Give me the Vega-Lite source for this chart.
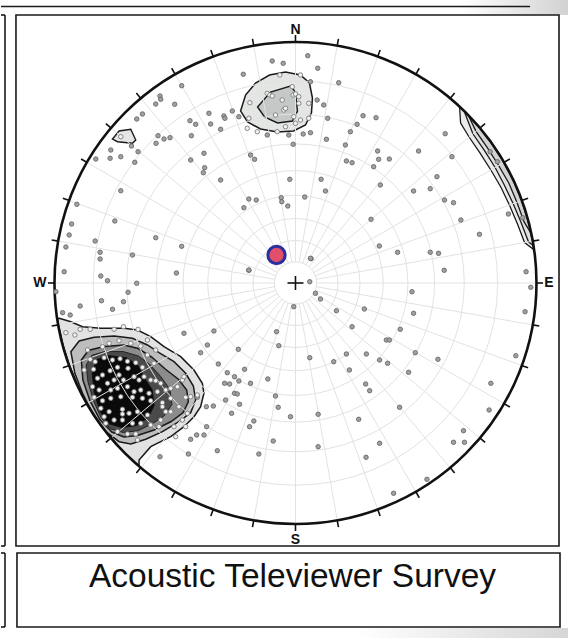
{
  "$schema": "https://vega.github.io/schema/vega-lite/v6.json",
  "width": 568,
  "height": 638,
  "autosize": {"type": "fit", "contains": "padding"},
  "padding": 0,
  "background": "white",
  "config": {"view": {"stroke": null}},
  "datasets": {
    "shadeTop": [{"x": 165, "x2": 273, "y": 283, "y2": 268}],
    "shadeBottom": [{"x": 60, "x2": 273, "y": -345, "y2": -355}],
    "frames": [
      {"x": -280, "x2": 264, "y": 268, "y2": -263},
      {"x": -279, "x2": 265, "y": -270, "y2": -344}
    ],
    "edges": [
      {"x": -295, "x2": 235, "y": 276.5, "y2": 276.5},
      {"x": -291, "x2": -291, "y": 268, "y2": -263},
      {"x": -295, "x2": -291, "y": 268, "y2": 268},
      {"x": -295, "x2": -291, "y": -263, "y2": -263},
      {"x": -291, "x2": -291, "y": -270, "y2": -344},
      {"x": -295, "x2": -291, "y": -270, "y2": -270},
      {"x": -295, "x2": -291, "y": -344, "y2": -344}
    ],
    "contours": [
      {"poly": "sw1", "i": 1, "x": -236.7, "y": -35.3},
      {"poly": "sw1", "i": 2, "x": -225, "y": -38.7},
      {"poly": "sw1", "i": 3, "x": -213.3, "y": -43.7},
      {"poly": "sw1", "i": 4, "x": -195, "y": -45.3},
      {"poly": "sw1", "i": 5, "x": -171.7, "y": -45.3},
      {"poly": "sw1", "i": 6, "x": -158.3, "y": -47},
      {"poly": "sw1", "i": 7, "x": -145, "y": -53.7},
      {"poly": "sw1", "i": 8, "x": -131.7, "y": -63.7},
      {"poly": "sw1", "i": 9, "x": -115, "y": -73.7},
      {"poly": "sw1", "i": 10, "x": -101.7, "y": -87},
      {"poly": "sw1", "i": 11, "x": -93.3, "y": -100.3},
      {"poly": "sw1", "i": 12, "x": -91.7, "y": -110.3},
      {"poly": "sw1", "i": 13, "x": -95, "y": -123.7},
      {"poly": "sw1", "i": 14, "x": -101.7, "y": -133.7},
      {"poly": "sw1", "i": 15, "x": -111.7, "y": -143.7},
      {"poly": "sw1", "i": 16, "x": -125, "y": -153.7},
      {"poly": "sw1", "i": 17, "x": -145, "y": -163.7},
      {"poly": "sw1", "i": 18, "x": -156.7, "y": -177},
      {"poly": "sw1", "i": 19, "x": -156.7, "y": -182.7},
      {"poly": "sw1", "i": 20, "x": -170.4, "y": -170.4},
      {"poly": "sw1", "i": 21, "x": -184.6, "y": -155.0},
      {"poly": "sw1", "i": 22, "x": -197.4, "y": -138.3},
      {"poly": "sw1", "i": 23, "x": -208.7, "y": -120.5},
      {"poly": "sw1", "i": 24, "x": -218.4, "y": -101.9},
      {"poly": "sw1", "i": 25, "x": -226.5, "y": -82.4},
      {"poly": "sw1", "i": 26, "x": -232.8, "y": -62.4},
      {"poly": "sw1", "i": 27, "x": -237.4, "y": -41.9},
      {"poly": "sw1", "i": 28, "x": -238.4, "y": -35.6},

      {"poly": "sw2", "i": 1, "x": -225, "y": -68.7},
      {"poly": "sw2", "i": 2, "x": -216.7, "y": -58},
      {"poly": "sw2", "i": 3, "x": -201.7, "y": -54.3},
      {"poly": "sw2", "i": 4, "x": -181.7, "y": -53},
      {"poly": "sw2", "i": 5, "x": -163.3, "y": -55.3},
      {"poly": "sw2", "i": 6, "x": -148.3, "y": -62},
      {"poly": "sw2", "i": 7, "x": -136.7, "y": -69.7},
      {"poly": "sw2", "i": 8, "x": -121.7, "y": -78.7},
      {"poly": "sw2", "i": 9, "x": -110, "y": -90.3},
      {"poly": "sw2", "i": 10, "x": -102.3, "y": -103},
      {"poly": "sw2", "i": 11, "x": -100, "y": -117},
      {"poly": "sw2", "i": 12, "x": -105, "y": -129.7},
      {"poly": "sw2", "i": 13, "x": -116.7, "y": -138.7},
      {"poly": "sw2", "i": 14, "x": -133.3, "y": -148.7},
      {"poly": "sw2", "i": 15, "x": -150, "y": -156.3},
      {"poly": "sw2", "i": 16, "x": -165, "y": -161},
      {"poly": "sw2", "i": 17, "x": -176.7, "y": -158.7},
      {"poly": "sw2", "i": 18, "x": -190, "y": -148.7},
      {"poly": "sw2", "i": 19, "x": -203.3, "y": -130.3},
      {"poly": "sw2", "i": 20, "x": -213.3, "y": -110.3},
      {"poly": "sw2", "i": 21, "x": -221, "y": -90.3},

      {"poly": "sw3", "i": 1, "x": -214.5, "y": -77},
      {"poly": "sw3", "i": 2, "x": -207.5, "y": -67.5},
      {"poly": "sw3", "i": 3, "x": -191.7, "y": -63.5},
      {"poly": "sw3", "i": 4, "x": -171.7, "y": -62},
      {"poly": "sw3", "i": 5, "x": -157.5, "y": -65.5},
      {"poly": "sw3", "i": 6, "x": -144, "y": -74},
      {"poly": "sw3", "i": 7, "x": -130.5, "y": -86},
      {"poly": "sw3", "i": 8, "x": -117, "y": -96.5},
      {"poly": "sw3", "i": 9, "x": -109, "y": -107},
      {"poly": "sw3", "i": 10, "x": -107.3, "y": -118.7},
      {"poly": "sw3", "i": 11, "x": -112.5, "y": -129.5},
      {"poly": "sw3", "i": 12, "x": -124.5, "y": -138.5},
      {"poly": "sw3", "i": 13, "x": -141.7, "y": -147},
      {"poly": "sw3", "i": 14, "x": -158.3, "y": -152.5},
      {"poly": "sw3", "i": 15, "x": -172, "y": -154},
      {"poly": "sw3", "i": 16, "x": -184, "y": -149},
      {"poly": "sw3", "i": 17, "x": -196, "y": -136.5},
      {"poly": "sw3", "i": 18, "x": -206, "y": -117.5},
      {"poly": "sw3", "i": 19, "x": -213, "y": -97},

      {"poly": "sw4", "i": 1, "x": -209.7, "y": -82.3},
      {"poly": "sw4", "i": 2, "x": -204.1, "y": -72.3},
      {"poly": "sw4", "i": 3, "x": -191, "y": -68.6},
      {"poly": "sw4", "i": 4, "x": -172.4, "y": -68.6},
      {"poly": "sw4", "i": 5, "x": -157.4, "y": -73},
      {"poly": "sw4", "i": 6, "x": -146.2, "y": -81.2},
      {"poly": "sw4", "i": 7, "x": -135, "y": -93.5},
      {"poly": "sw4", "i": 8, "x": -125.7, "y": -106.6},
      {"poly": "sw4", "i": 9, "x": -123.8, "y": -121.5},
      {"poly": "sw4", "i": 10, "x": -131.3, "y": -132.7},
      {"poly": "sw4", "i": 11, "x": -142.5, "y": -140.2},
      {"poly": "sw4", "i": 12, "x": -157.4, "y": -147.7},
      {"poly": "sw4", "i": 13, "x": -172.4, "y": -149.5},
      {"poly": "sw4", "i": 14, "x": -185.4, "y": -145.8},
      {"poly": "sw4", "i": 15, "x": -194.8, "y": -134.6},
      {"poly": "sw4", "i": 16, "x": -202.2, "y": -117.8},
      {"poly": "sw4", "i": 17, "x": -207.8, "y": -99.1},

      {"poly": "sw5", "i": 1, "x": -203.6, "y": -90.6},
      {"poly": "sw5", "i": 2, "x": -199.6, "y": -76.6},
      {"poly": "sw5", "i": 3, "x": -187.6, "y": -72.6},
      {"poly": "sw5", "i": 4, "x": -169.6, "y": -74.6},
      {"poly": "sw5", "i": 5, "x": -157.6, "y": -82.6},
      {"poly": "sw5", "i": 6, "x": -151.6, "y": -94.6},
      {"poly": "sw5", "i": 7, "x": -143.6, "y": -106.6},
      {"poly": "sw5", "i": 8, "x": -141.6, "y": -122.6},
      {"poly": "sw5", "i": 9, "x": -147.6, "y": -134.6},
      {"poly": "sw5", "i": 10, "x": -159.6, "y": -142.6},
      {"poly": "sw5", "i": 11, "x": -173.6, "y": -144.6},
      {"poly": "sw5", "i": 12, "x": -187.6, "y": -140.6},
      {"poly": "sw5", "i": 13, "x": -195.6, "y": -128.6},
      {"poly": "sw5", "i": 14, "x": -201.6, "y": -110.6},

      {"poly": "n1", "i": 1, "x": -55, "y": 172},
      {"poly": "n1", "i": 2, "x": -50, "y": 188},
      {"poly": "n1", "i": 3, "x": -40, "y": 200},
      {"poly": "n1", "i": 4, "x": -26, "y": 208},
      {"poly": "n1", "i": 5, "x": -10, "y": 211},
      {"poly": "n1", "i": 6, "x": 5, "y": 208},
      {"poly": "n1", "i": 7, "x": 14, "y": 200},
      {"poly": "n1", "i": 8, "x": 17, "y": 185},
      {"poly": "n1", "i": 9, "x": 16, "y": 170},
      {"poly": "n1", "i": 10, "x": 10, "y": 158},
      {"poly": "n1", "i": 11, "x": -2, "y": 152},
      {"poly": "n1", "i": 12, "x": -18, "y": 151},
      {"poly": "n1", "i": 13, "x": -35, "y": 154},
      {"poly": "n1", "i": 14, "x": -48, "y": 161},

      {"poly": "n2", "i": 1, "x": -38, "y": 176},
      {"poly": "n2", "i": 2, "x": -25, "y": 191},
      {"poly": "n2", "i": 3, "x": -5, "y": 197},
      {"poly": "n2", "i": 4, "x": 0, "y": 191},
      {"poly": "n2", "i": 5, "x": 2, "y": 172},
      {"poly": "n2", "i": 6, "x": -3, "y": 162},
      {"poly": "n2", "i": 7, "x": -18, "y": 160},
      {"poly": "n2", "i": 8, "x": -31, "y": 166},

      {"poly": "nw", "i": 1, "x": -183.3, "y": 144},
      {"poly": "nw", "i": 2, "x": -176.7, "y": 152},
      {"poly": "nw", "i": 3, "x": -165, "y": 153.7},
      {"poly": "nw", "i": 4, "x": -160, "y": 143},
      {"poly": "nw", "i": 5, "x": -163.3, "y": 139.7},
      {"poly": "nw", "i": 6, "x": -178.3, "y": 141.3},

      {"poly": "e1", "i": 1, "x": 164.4, "y": 176.2},
      {"poly": "e1", "i": 2, "x": 173.3, "y": 167.5},
      {"poly": "e1", "i": 3, "x": 184.6, "y": 155.0},
      {"poly": "e1", "i": 4, "x": 197.4, "y": 138.3},
      {"poly": "e1", "i": 5, "x": 208.7, "y": 120.5},
      {"poly": "e1", "i": 6, "x": 218.4, "y": 101.9},
      {"poly": "e1", "i": 7, "x": 226.5, "y": 82.4},
      {"poly": "e1", "i": 8, "x": 232.8, "y": 62.4},
      {"poly": "e1", "i": 9, "x": 237.4, "y": 41.9},
      {"poly": "e1", "i": 10, "x": 238.6, "y": 33.5},
      {"poly": "e1", "i": 11, "x": 229.5, "y": 40.5},
      {"poly": "e1", "i": 12, "x": 222.2, "y": 59.6},
      {"poly": "e1", "i": 13, "x": 214.3, "y": 78.0},
      {"poly": "e1", "i": 14, "x": 205.7, "y": 96.0},
      {"poly": "e1", "i": 15, "x": 195.7, "y": 113},
      {"poly": "e1", "i": 16, "x": 185.1, "y": 129.7},
      {"poly": "e1", "i": 17, "x": 173.9, "y": 146.0},
      {"poly": "e1", "i": 18, "x": 165.4, "y": 159.9},

      {"poly": "e2", "i": 1, "x": 169.0, "y": 171.8},
      {"poly": "e2", "i": 2, "x": 173.3, "y": 167.5},
      {"poly": "e2", "i": 3, "x": 184.6, "y": 155.0},
      {"poly": "e2", "i": 4, "x": 197.4, "y": 138.3},
      {"poly": "e2", "i": 5, "x": 208.7, "y": 120.5},
      {"poly": "e2", "i": 6, "x": 218.4, "y": 101.9},
      {"poly": "e2", "i": 7, "x": 226.5, "y": 82.4},
      {"poly": "e2", "i": 8, "x": 232.8, "y": 62.4},
      {"poly": "e2", "i": 9, "x": 237.4, "y": 41.9},
      {"poly": "e2", "i": 10, "x": 238.1, "y": 37.6},
      {"poly": "e2", "i": 11, "x": 233.4, "y": 41.2},
      {"poly": "e2", "i": 12, "x": 226.0, "y": 60.6},
      {"poly": "e2", "i": 13, "x": 218.1, "y": 79.3},
      {"poly": "e2", "i": 14, "x": 209.3, "y": 97.7},
      {"poly": "e2", "i": 15, "x": 200.0, "y": 115.5},
      {"poly": "e2", "i": 16, "x": 189.2, "y": 132.6},
      {"poly": "e2", "i": 17, "x": 177.7, "y": 149.2},

      {"poly": "e3", "i": 1, "x": 173.3, "y": 167.5},
      {"poly": "e3", "i": 2, "x": 184.6, "y": 155.0},
      {"poly": "e3", "i": 3, "x": 197.4, "y": 138.3},
      {"poly": "e3", "i": 4, "x": 208.7, "y": 120.5},
      {"poly": "e3", "i": 5, "x": 218.4, "y": 101.9},
      {"poly": "e3", "i": 6, "x": 226.5, "y": 82.4},
      {"poly": "e3", "i": 7, "x": 232.8, "y": 62.4},
      {"poly": "e3", "i": 8, "x": 235.7, "y": 50.1},
      {"poly": "e3", "i": 9, "x": 228.9, "y": 61.4},
      {"poly": "e3", "i": 10, "x": 221.8, "y": 80.7},
      {"poly": "e3", "i": 11, "x": 213.8, "y": 99.8},
      {"poly": "e3", "i": 12, "x": 203.5, "y": 117.5},
      {"poly": "e3", "i": 13, "x": 192.5, "y": 134.9},
      {"poly": "e3", "i": 14, "x": 180.8, "y": 151.7}
    ],
    "rings": [
      {"radius": 21.1}, {"radius": 42.5}, {"radius": 64.6}, {"radius": 87.7},
      {"radius": 112.4}, {"radius": 139.1}, {"radius": 168.8}, {"radius": 202.2}
    ],
    "primitive": [{"radius": 241}],
    "spokes": [
      {"xi": 0, "yi": 21, "xo": 0, "yo": 241, "xt": 0, "yt": 248},
      {"xi": 3.65, "yi": 20.68, "xo": 41.84, "yo": 237.34, "xt": 43.05, "yt": 244.23},
      {"xi": 7.18, "yi": 19.73, "xo": 82.42, "yo": 226.47, "xt": 84.82, "yt": 233.05},
      {"xi": 10.5, "yi": 18.19, "xo": 120.5, "yo": 208.71, "xt": 124, "yt": 214.77},
      {"xi": 13.5, "yi": 16.09, "xo": 154.91, "yo": 184.61, "xt": 159.41, "yt": 189.97},
      {"xi": 16.09, "yi": 13.5, "xo": 184.61, "yo": 154.91, "xt": 189.97, "yt": 159.41},
      {"xi": 18.19, "yi": 10.5, "xo": 208.71, "yo": 120.5, "xt": 214.77, "yt": 124},
      {"xi": 19.73, "yi": 7.18, "xo": 226.47, "yo": 82.42, "xt": 233.05, "yt": 84.82},
      {"xi": 20.68, "yi": 3.65, "xo": 237.34, "yo": 41.84, "xt": 244.23, "yt": 43.05},
      {"xi": 21, "yi": 0, "xo": 241, "yo": 0, "xt": 248, "yt": 0},
      {"xi": 20.68, "yi": -3.65, "xo": 237.34, "yo": -41.84, "xt": 244.23, "yt": -43.05},
      {"xi": 19.73, "yi": -7.18, "xo": 226.47, "yo": -82.42, "xt": 233.05, "yt": -84.82},
      {"xi": 18.19, "yi": -10.5, "xo": 208.71, "yo": -120.5, "xt": 214.77, "yt": -124},
      {"xi": 16.09, "yi": -13.5, "xo": 184.61, "yo": -154.91, "xt": 189.97, "yt": -159.41},
      {"xi": 13.5, "yi": -16.09, "xo": 154.91, "yo": -184.61, "xt": 159.41, "yt": -189.97},
      {"xi": 10.5, "yi": -18.19, "xo": 120.5, "yo": -208.71, "xt": 124, "yt": -214.77},
      {"xi": 7.18, "yi": -19.73, "xo": 82.42, "yo": -226.47, "xt": 84.82, "yt": -233.05},
      {"xi": 3.65, "yi": -20.68, "xo": 41.84, "yo": -237.34, "xt": 43.05, "yt": -244.23},
      {"xi": 0, "yi": -21, "xo": 0, "yo": -241, "xt": 0, "yt": -248},
      {"xi": -3.65, "yi": -20.68, "xo": -41.84, "yo": -237.34, "xt": -43.05, "yt": -244.23},
      {"xi": -7.18, "yi": -19.73, "xo": -82.42, "yo": -226.47, "xt": -84.82, "yt": -233.05},
      {"xi": -10.5, "yi": -18.19, "xo": -120.5, "yo": -208.71, "xt": -124, "yt": -214.77},
      {"xi": -13.5, "yi": -16.09, "xo": -154.91, "yo": -184.61, "xt": -159.41, "yt": -189.97},
      {"xi": -16.09, "yi": -13.5, "xo": -184.61, "yo": -154.91, "xt": -189.97, "yt": -159.41},
      {"xi": -18.19, "yi": -10.5, "xo": -208.71, "yo": -120.5, "xt": -214.77, "yt": -124},
      {"xi": -19.73, "yi": -7.18, "xo": -226.47, "yo": -82.42, "xt": -233.05, "yt": -84.82},
      {"xi": -20.68, "yi": -3.65, "xo": -237.34, "yo": -41.84, "xt": -244.23, "yt": -43.05},
      {"xi": -21, "yi": 0, "xo": -241, "yo": 0, "xt": -248, "yt": 0},
      {"xi": -20.68, "yi": 3.65, "xo": -237.34, "yo": 41.84, "xt": -244.23, "yt": 43.05},
      {"xi": -19.73, "yi": 7.18, "xo": -226.47, "yo": 82.42, "xt": -233.05, "yt": 84.82},
      {"xi": -18.19, "yi": 10.5, "xo": -208.71, "yo": 120.5, "xt": -214.77, "yt": 124},
      {"xi": -16.09, "yi": 13.5, "xo": -184.61, "yo": 154.91, "xt": -189.97, "yt": 159.41},
      {"xi": -13.5, "yi": 16.09, "xo": -154.91, "yo": 184.61, "xt": -159.41, "yt": 189.97},
      {"xi": -10.5, "yi": 18.19, "xo": -120.5, "yo": 208.71, "xt": -124, "yt": 214.77},
      {"xi": -7.18, "yi": 19.73, "xo": -82.42, "yo": 226.47, "xt": -84.82, "yt": 233.05},
      {"xi": -3.65, "yi": 20.68, "xo": -41.84, "yo": 237.34, "xt": -43.05, "yt": 244.23}
    ],
    "cross": [
      {"x": -8, "y": 0, "x2": 8, "y2": 0},
      {"x": 0, "y": -7, "x2": 0, "y2": 7}
    ],
    "mean": [{"x": -19, "y": 28}],
    "labels": [
      {"t": "N", "x": 0, "y": 253},
      {"t": "S", "x": 0, "y": -257},
      {"t": "E", "x": 254, "y": 0},
      {"t": "W", "x": -256, "y": 0}
    ],
    "title": [{"t": "Acoustic Televiewer Survey", "x": -3, "y": -304}],
    "pts": [
      {"x": -23.3, "y": 222, "zone": "s"}, {"x": -12.3, "y": 219.7, "zone": "s"}, {"x": -52.3, "y": 208.7, "zone": "s"},
      {"x": -114, "y": 197.3, "zone": "s"}, {"x": -135.7, "y": 187, "zone": "s"}, {"x": -135, "y": 183.7, "zone": "s"},
      {"x": -140, "y": 179, "zone": "s"}, {"x": -121, "y": 178.7, "zone": "s"}, {"x": -153.3, "y": 169, "zone": "s"},
      {"x": -159, "y": 164, "zone": "s"}, {"x": -105.7, "y": 162.3, "zone": "s"}, {"x": -100, "y": 158.7, "zone": "s"},
      {"x": -86.7, "y": 169.7, "zone": "s"}, {"x": -85, "y": 159, "zone": "s"}, {"x": -71.7, "y": 167, "zone": "s"},
      {"x": -70.7, "y": 164.7, "zone": "s"}, {"x": -63.3, "y": 172, "zone": "s"}, {"x": -75, "y": 153.7, "zone": "s"},
      {"x": -137.7, "y": 147.3, "zone": "s"}, {"x": -131.7, "y": 144, "zone": "s"}, {"x": -125.7, "y": 145.3, "zone": "s"},
      {"x": -139.7, "y": 139.7, "zone": "s"}, {"x": -164.3, "y": 137, "zone": "s"}, {"x": -157.7, "y": 131.3, "zone": "s"},
      {"x": -185, "y": 133, "zone": "s"}, {"x": -175, "y": 126.3, "zone": "s"}, {"x": -185.7, "y": 124.7, "zone": "s"},
      {"x": -200, "y": 124, "zone": "s"}, {"x": -161, "y": 120.7, "zone": "s"}, {"x": -104.3, "y": 147.3, "zone": "s"},
      {"x": -91.7, "y": 129.7, "zone": "s"}, {"x": -105, "y": 123, "zone": "s"}, {"x": -91, "y": 115.3, "zone": "s"},
      {"x": -92.3, "y": 110.3, "zone": "s"}, {"x": -75, "y": 103, "zone": "s"}, {"x": -45, "y": 128, "zone": "s"},
      {"x": -41, "y": 123.7, "zone": "s"}, {"x": -5.7, "y": 103.7, "zone": "s"}, {"x": -175, "y": 92.3, "zone": "s"},
      {"x": -219, "y": 78.7, "zone": "s"}, {"x": -46.7, "y": 84, "zone": "s"}, {"x": -39.3, "y": 83, "zone": "s"},
      {"x": -51.7, "y": 75.3, "zone": "s"}, {"x": -14.3, "y": 85.3, "zone": "s"}, {"x": -13.7, "y": 81.3, "zone": "s"},
      {"x": -7.7, "y": 77, "zone": "s"}, {"x": -181, "y": 62, "zone": "s"}, {"x": -224.3, "y": 59, "zone": "s"},
      {"x": -226.7, "y": 48, "zone": "s"}, {"x": -230, "y": 36, "zone": "s"}, {"x": -200.7, "y": 42, "zone": "s"},
      {"x": -195.7, "y": 30.7, "zone": "s"}, {"x": -195.7, "y": 24, "zone": "s"}, {"x": -140, "y": 45.3, "zone": "s"},
      {"x": -114, "y": 36.7, "zone": "s"}, {"x": -163.3, "y": 28, "zone": "s"}, {"x": -231.7, "y": 11.3, "zone": "s"},
      {"x": -195, "y": 7, "zone": "s"}, {"x": -119.3, "y": 10, "zone": "s"}, {"x": -46.7, "y": 12.7, "zone": "s"},
      {"x": -56.7, "y": 166.3, "zone": "s"}, {"x": 15, "y": 201.3, "zone": "s"}, {"x": 21.7, "y": 183, "zone": "s"},
      {"x": -6.7, "y": 148, "zone": "s"}, {"x": 7.7, "y": 149, "zone": "s"}, {"x": 15, "y": 150.3, "zone": "s"},
      {"x": -28.3, "y": 148, "zone": "s"},
      {"x": 12.3, "y": 227.3, "zone": "s"}, {"x": 22.3, "y": 214.7, "zone": "s"}, {"x": 43.3, "y": 200.3, "zone": "s"},
      {"x": 28.3, "y": 178, "zone": "s"}, {"x": 32.3, "y": 164.7, "zone": "s"}, {"x": -2.3, "y": 138.7, "zone": "s"},
      {"x": 67.7, "y": 167.3, "zone": "s"}, {"x": 80.7, "y": 165.3, "zone": "s"}, {"x": 61.7, "y": 158.7, "zone": "s"},
      {"x": 55, "y": 151.3, "zone": "s"}, {"x": 31, "y": 143.7, "zone": "s"}, {"x": 50, "y": 138, "zone": "s"},
      {"x": 82.3, "y": 132, "zone": "s"}, {"x": 83.3, "y": 123.7, "zone": "s"}, {"x": 94, "y": 124, "zone": "s"},
      {"x": 51, "y": 122, "zone": "s"}, {"x": 56.7, "y": 120.3, "zone": "s"}, {"x": 78.3, "y": 116.3, "zone": "s"},
      {"x": 123.3, "y": 132, "zone": "s"}, {"x": 150, "y": 149.3, "zone": "s"}, {"x": 156.7, "y": 126.3, "zone": "s"},
      {"x": 141.7, "y": 106.3, "zone": "s"}, {"x": 135, "y": 94.3, "zone": "s"}, {"x": 118.3, "y": 92, "zone": "s"},
      {"x": 85, "y": 98, "zone": "s"}, {"x": 25.7, "y": 103.7, "zone": "s"}, {"x": 30, "y": 92, "zone": "s"},
      {"x": 9.3, "y": 86, "zone": "s"}, {"x": 149.3, "y": 83, "zone": "s"}, {"x": 158.3, "y": 80.3, "zone": "s"},
      {"x": 165.7, "y": 63, "zone": "s"}, {"x": 184.3, "y": 48.7, "zone": "s"}, {"x": 75.7, "y": 63.7, "zone": "s"},
      {"x": 84, "y": 37, "zone": "s"}, {"x": 102.3, "y": 30.7, "zone": "s"}, {"x": 135, "y": 30.7, "zone": "s"},
      {"x": 143.3, "y": 29.7, "zone": "s"}, {"x": 149, "y": 12.7, "zone": "s"}, {"x": 15.7, "y": 24.3, "zone": "s"},
      {"x": 231, "y": 11.3, "zone": "s"}, {"x": 213.3, "y": 69, "zone": "s"}, {"x": 227.7, "y": 65.3, "zone": "s"},
      {"x": 195, "y": 131.3, "zone": "s"}, {"x": 202.3, "y": 121.3, "zone": "s"},
      {"x": 15, "y": 24.7, "zone": "s"}, {"x": -46.7, "y": 13, "zone": "s"},
      {"x": 14.3, "y": 1.3, "zone": "s"}, {"x": -1.7, "y": -23.7, "zone": "s"}, {"x": 20, "y": -10.3, "zone": "s"},
      {"x": 25, "y": -16, "zone": "s"}, {"x": 116.7, "y": -8.7, "zone": "s"}, {"x": 235.7, "y": -4.3, "zone": "s"},
      {"x": 230, "y": -28.7, "zone": "s"}, {"x": 41, "y": -27.7, "zone": "s"}, {"x": 69, "y": -26, "zone": "s"},
      {"x": 118.3, "y": -30.3, "zone": "s"}, {"x": 56.7, "y": -43.7, "zone": "s"}, {"x": 105, "y": -46.3, "zone": "s"},
      {"x": 91, "y": -57, "zone": "s"}, {"x": 94, "y": -57, "zone": "s"}, {"x": 14.3, "y": -74.7, "zone": "s"},
      {"x": 38.3, "y": -78.7, "zone": "s"}, {"x": 51, "y": -71, "zone": "s"}, {"x": 71, "y": -71, "zone": "s"},
      {"x": 84.3, "y": -77, "zone": "s"}, {"x": 92.3, "y": -80.3, "zone": "s"}, {"x": 120, "y": -69.7, "zone": "s"},
      {"x": 142.7, "y": -76.3, "zone": "s"}, {"x": 220.7, "y": -72.7, "zone": "s"}, {"x": 54, "y": -87, "zone": "s"},
      {"x": 113.3, "y": -89.3, "zone": "s"}, {"x": 195.7, "y": -100.3, "zone": "s"}, {"x": 70.3, "y": -101, "zone": "s"},
      {"x": 74.3, "y": -107.7, "zone": "s"}, {"x": 194, "y": -127, "zone": "s"}, {"x": 104.3, "y": -124.3, "zone": "s"},
      {"x": -5, "y": -133.7, "zone": "s"}, {"x": 22.7, "y": -131.3, "zone": "s"}, {"x": 63.3, "y": -136.3, "zone": "s"},
      {"x": 168.3, "y": -147.7, "zone": "s"}, {"x": 158.3, "y": -159.3, "zone": "s"}, {"x": 169.3, "y": -159.3, "zone": "s"},
      {"x": 84.3, "y": -160.3, "zone": "s"}, {"x": 22.7, "y": -163.7, "zone": "s"}, {"x": 70.7, "y": -174.3, "zone": "s"},
      {"x": 131.7, "y": -196.3, "zone": "s"}, {"x": 98.3, "y": -210.3, "zone": "s"},
      {"x": -188.3, "y": 2.3, "zone": "s"}, {"x": -159, "y": -0.3, "zone": "s"}, {"x": -167.7, "y": -9.3, "zone": "s"},
      {"x": -194.3, "y": -17.7, "zone": "s"}, {"x": -172.3, "y": -18.7, "zone": "s"}, {"x": -215.7, "y": -23, "zone": "s"},
      {"x": -183.3, "y": -26.3, "zone": "s"}, {"x": -240, "y": -8.7, "zone": "s"}, {"x": -233.3, "y": -29.7, "zone": "s"},
      {"x": -225.7, "y": -32, "zone": "s"}, {"x": -111.7, "y": -50.3, "zone": "s"}, {"x": -81.7, "y": -48, "zone": "s"},
      {"x": -95, "y": -69.7, "zone": "s"}, {"x": -88.3, "y": -62, "zone": "s"}, {"x": -77.3, "y": -81, "zone": "s"},
      {"x": -68.3, "y": -89.7, "zone": "s"}, {"x": -61, "y": -93.7, "zone": "s"}, {"x": -56.7, "y": -98, "zone": "s"},
      {"x": -71, "y": -100.3, "zone": "s"}, {"x": -66, "y": -101, "zone": "s"}, {"x": -61, "y": -110.3, "zone": "s"},
      {"x": -58.3, "y": -111, "zone": "s"}, {"x": -45, "y": -100.3, "zone": "s"}, {"x": -51, "y": -86.3, "zone": "s"},
      {"x": -57.3, "y": -66.3, "zone": "s"}, {"x": -27.7, "y": -96, "zone": "s"}, {"x": -19, "y": -48.7, "zone": "s"},
      {"x": -16.7, "y": -62.7, "zone": "s"}, {"x": -20, "y": -113, "zone": "s"}, {"x": -17.3, "y": -124.3, "zone": "s"},
      {"x": -70, "y": -117, "zone": "s"}, {"x": -56, "y": -121.3, "zone": "s"}, {"x": -64, "y": -130.3, "zone": "s"},
      {"x": -82.3, "y": -123, "zone": "s"}, {"x": -89.3, "y": -123.7, "zone": "s"}, {"x": -98.3, "y": -114.3, "zone": "s"},
      {"x": -41.7, "y": -138, "zone": "s"}, {"x": -46, "y": -143.7, "zone": "s"}, {"x": -89, "y": -143.7, "zone": "s"},
      {"x": -91.7, "y": -152, "zone": "s"}, {"x": -99, "y": -152, "zone": "s"}, {"x": -105, "y": -156.3, "zone": "s"},
      {"x": -78.3, "y": -167.7, "zone": "s"}, {"x": -107.3, "y": -171, "zone": "s"}, {"x": -36.7, "y": -171, "zone": "s"},
      {"x": -22.3, "y": -158, "zone": "s"}, {"x": -135.7, "y": -173.7, "zone": "s"},
      {"x": -28.3, "y": 189.7, "zone": "c"}, {"x": -25.7, "y": 188, "zone": "c"}, {"x": -23.3, "y": 187, "zone": "c"},
      {"x": -13.3, "y": 183, "zone": "c"}, {"x": -2.3, "y": 188, "zone": "c"}, {"x": 0, "y": 189, "zone": "c"},
      {"x": 3.3, "y": 186.3, "zone": "c"}, {"x": -11.7, "y": 173, "zone": "c"}, {"x": -10, "y": 174.7, "zone": "c"},
      {"x": 3.3, "y": 179.7, "zone": "c"}, {"x": 13.3, "y": 179.7, "zone": "c"}, {"x": -45.7, "y": 180.3, "zone": "c"},
      {"x": -20, "y": 168, "zone": "c"}, {"x": -1.7, "y": 166.3, "zone": "c"}, {"x": 5, "y": 163, "zone": "c"},
      {"x": 13.3, "y": 164.7, "zone": "c"}, {"x": -10, "y": 156.3, "zone": "c"}, {"x": 0, "y": 159.7, "zone": "c"},
      {"x": -38.3, "y": 151.3, "zone": "c"}, {"x": -48.3, "y": 154.7, "zone": "c"}, {"x": -18.3, "y": 151.3, "zone": "c"},
      {"x": -15.7, "y": 208, "zone": "c"}, {"x": 5, "y": 208, "zone": "c"}, {"x": -3.3, "y": 196.3, "zone": "c"},
      {"x": -46.7, "y": 164.7, "zone": "c"}, {"x": -175, "y": 146.3, "zone": "c"},
      {"x": -230, "y": -49.7, "zone": "c"}, {"x": -221, "y": -52, "zone": "c"}, {"x": -215.7, "y": -46.3, "zone": "c"},
      {"x": -205.7, "y": -46.3, "zone": "c"}, {"x": -181.7, "y": -46.3, "zone": "c"}, {"x": -172.3, "y": -43.7, "zone": "c"},
      {"x": -157.7, "y": -46.3, "zone": "c"}, {"x": -148.3, "y": -57, "zone": "c"}, {"x": -140, "y": -67, "zone": "c"},
      {"x": -205.7, "y": -76.3, "zone": "c"}, {"x": -200.7, "y": -78.7, "zone": "c"}, {"x": -191.7, "y": -74.7, "zone": "c"},
      {"x": -183.3, "y": -77, "zone": "c"}, {"x": -175.7, "y": -75.7, "zone": "c"}, {"x": -168.3, "y": -78.3, "zone": "c"},
      {"x": -160, "y": -79.7, "zone": "c"}, {"x": -153.3, "y": -84.3, "zone": "c"}, {"x": -202.3, "y": -86.3, "zone": "c"},
      {"x": -198.3, "y": -95.3, "zone": "c"}, {"x": -193.3, "y": -92, "zone": "c"}, {"x": -185.7, "y": -87.7, "zone": "c"},
      {"x": -178.3, "y": -84.3, "zone": "c"}, {"x": -167.7, "y": -85.3, "zone": "c"}, {"x": -161.7, "y": -93.7, "zone": "c"},
      {"x": -156.7, "y": -97, "zone": "c"}, {"x": -151.7, "y": -93.7, "zone": "c"}, {"x": -145, "y": -97, "zone": "c"},
      {"x": -140, "y": -97.7, "zone": "c"}, {"x": -135, "y": -100.3, "zone": "c"}, {"x": -203.3, "y": -103.7, "zone": "c"},
      {"x": -196.7, "y": -107, "zone": "c"}, {"x": -185, "y": -107, "zone": "c"}, {"x": -178.3, "y": -105.3, "zone": "c"},
      {"x": -168.3, "y": -103.7, "zone": "c"}, {"x": -161.7, "y": -108.7, "zone": "c"}, {"x": -155, "y": -107, "zone": "c"},
      {"x": -146.7, "y": -110.3, "zone": "c"}, {"x": -138.3, "y": -108.7, "zone": "c"}, {"x": -130, "y": -107, "zone": "c"},
      {"x": -125, "y": -105.3, "zone": "c"}, {"x": -118.3, "y": -103.7, "zone": "c"}, {"x": -113.3, "y": -97, "zone": "c"},
      {"x": -111.7, "y": -93.7, "zone": "c"}, {"x": -201.7, "y": -114.3, "zone": "c"}, {"x": -193.3, "y": -117.7, "zone": "c"},
      {"x": -185, "y": -115.3, "zone": "c"}, {"x": -175, "y": -113.7, "zone": "c"}, {"x": -163.3, "y": -114.3, "zone": "c"},
      {"x": -153.3, "y": -115.3, "zone": "c"}, {"x": -145, "y": -117.7, "zone": "c"}, {"x": -133.3, "y": -119.7, "zone": "c"},
      {"x": -125, "y": -115.3, "zone": "c"}, {"x": -116.7, "y": -123.7, "zone": "c"}, {"x": -110, "y": -114.3, "zone": "c"},
      {"x": -105, "y": -113.7, "zone": "c"}, {"x": -98.3, "y": -112, "zone": "c"}, {"x": -195, "y": -125.3, "zone": "c"},
      {"x": -186.7, "y": -128.7, "zone": "c"}, {"x": -173.3, "y": -126.3, "zone": "c"}, {"x": -166.7, "y": -130.3, "zone": "c"},
      {"x": -158.3, "y": -128.7, "zone": "c"}, {"x": -148.3, "y": -132, "zone": "c"}, {"x": -133.3, "y": -123.7, "zone": "c"},
      {"x": -130, "y": -128.7, "zone": "c"}, {"x": -135, "y": -137, "zone": "c"}, {"x": -121.7, "y": -143.7, "zone": "c"},
      {"x": -190, "y": -140.3, "zone": "c"}, {"x": -181.7, "y": -137, "zone": "c"}, {"x": -173.3, "y": -137, "zone": "c"},
      {"x": -163.3, "y": -140.3, "zone": "c"}, {"x": -155, "y": -140.3, "zone": "c"}, {"x": -145, "y": -142, "zone": "c"},
      {"x": -136.7, "y": -143.7, "zone": "c"}, {"x": -168.3, "y": -151, "zone": "c"}, {"x": -160, "y": -151, "zone": "c"},
      {"x": -178.3, "y": -148.7, "zone": "c"}, {"x": -158.3, "y": -157, "zone": "c"}, {"x": -173.3, "y": -131, "zone": "c"},
      {"x": -191.7, "y": -133.7, "zone": "c"}, {"x": -176.7, "y": -92, "zone": "c"}, {"x": -172.3, "y": -97, "zone": "c"},
      {"x": -181.7, "y": -97, "zone": "c"}, {"x": -188.3, "y": -100.3, "zone": "c"}, {"x": -141.7, "y": -80.3, "zone": "c"},
      {"x": -148.3, "y": -72, "zone": "c"}, {"x": -155, "y": -63, "zone": "c"}, {"x": -165, "y": -60.3, "zone": "c"},
      {"x": -176.7, "y": -57.7, "zone": "c"}, {"x": -186.7, "y": -60.3, "zone": "c"}, {"x": -193.3, "y": -63.7, "zone": "c"},
      {"x": -208.3, "y": -67, "zone": "c"}, {"x": -211.7, "y": -87, "zone": "c"}, {"x": -113.3, "y": -137, "zone": "c"},
      {"x": -110, "y": -143.7, "zone": "c"}, {"x": -120, "y": -153.7, "zone": "c"}, {"x": -108.3, "y": -130.3, "zone": "c"},
      {"x": -125, "y": -128.7, "zone": "c"}
    ]
  },
  "layer": [
    {
      "data": {"name": "shadeTop"},
      "mark": {"type": "rect", "fill": {"gradient": "linear", "x1": 0, "y1": 0, "x2": 1, "y2": 0, "stops": [{"offset": 0, "color": "#ffffff"}, {"offset": 1, "color": "#d2d2d2"}]}},
      "encoding": {
        "x": {"field": "x", "type": "quantitative", "scale": {"domain": [-295, 273], "nice": false, "zero": false}, "axis": null},
        "x2": {"field": "x2"},
        "y": {"field": "y", "type": "quantitative", "scale": {"domain": [-355, 283], "nice": false, "zero": false}, "axis": null},
        "y2": {"field": "y2"}
      }
    },
    {
      "data": {"name": "shadeBottom"},
      "mark": {"type": "rect", "fill": {"gradient": "linear", "x1": 0, "y1": 0, "x2": 1, "y2": 0, "stops": [{"offset": 0, "color": "#ffffff"}, {"offset": 1, "color": "#d6d6d6"}]}},
      "encoding": {
        "x": {"field": "x", "type": "quantitative"},
        "x2": {"field": "x2"},
        "y": {"field": "y", "type": "quantitative"},
        "y2": {"field": "y2"}
      }
    },
    {
      "data": {"name": "frames"},
      "mark": {"type": "rect", "filled": false, "stroke": "#1a1a1a", "strokeWidth": 1.6},
      "encoding": {
        "x": {"field": "x", "type": "quantitative"},
        "x2": {"field": "x2"},
        "y": {"field": "y", "type": "quantitative"},
        "y2": {"field": "y2"}
      }
    },
    {
      "data": {"name": "edges"},
      "mark": {"type": "rule", "stroke": "#1a1a1a", "strokeWidth": 1.6},
      "encoding": {
        "x": {"field": "x", "type": "quantitative"},
        "x2": {"field": "x2"},
        "y": {"field": "y", "type": "quantitative"},
        "y2": {"field": "y2"}
      }
    },
    {
      "data": {"name": "contours"},
      "transform": [{"filter": "datum.poly == 'sw1'"}],
      "mark": {"type": "line", "interpolate": "linear-closed", "fill": "#e2e2e2", "stroke": "#1a1a1a", "strokeWidth": 1.5},
      "encoding": {"x": {"field": "x", "type": "quantitative"}, "y": {"field": "y", "type": "quantitative"}, "order": {"field": "i"}}
    },
    {
      "data": {"name": "contours"},
      "transform": [{"filter": "datum.poly == 'sw2'"}],
      "mark": {"type": "line", "interpolate": "linear-closed", "fill": "#bdbdbd", "stroke": "#1a1a1a", "strokeWidth": 1.5},
      "encoding": {"x": {"field": "x", "type": "quantitative"}, "y": {"field": "y", "type": "quantitative"}, "order": {"field": "i"}}
    },
    {
      "data": {"name": "contours"},
      "transform": [{"filter": "datum.poly == 'sw3'"}],
      "mark": {"type": "line", "interpolate": "linear-closed", "fill": "#8c8c8c", "stroke": "#1a1a1a", "strokeWidth": 1.5},
      "encoding": {"x": {"field": "x", "type": "quantitative"}, "y": {"field": "y", "type": "quantitative"}, "order": {"field": "i"}}
    },
    {
      "data": {"name": "contours"},
      "transform": [{"filter": "datum.poly == 'sw4'"}],
      "mark": {"type": "line", "interpolate": "linear-closed", "fill": "#4a4a4a", "stroke": "#222222", "strokeWidth": 1},
      "encoding": {"x": {"field": "x", "type": "quantitative"}, "y": {"field": "y", "type": "quantitative"}, "order": {"field": "i"}}
    },
    {
      "data": {"name": "contours"},
      "transform": [{"filter": "datum.poly == 'sw5'"}],
      "mark": {"type": "line", "interpolate": "linear-closed", "fill": "#0a0a0a", "stroke": "#111111", "strokeWidth": 1},
      "encoding": {"x": {"field": "x", "type": "quantitative"}, "y": {"field": "y", "type": "quantitative"}, "order": {"field": "i"}}
    },
    {
      "data": {"name": "contours"},
      "transform": [{"filter": "datum.poly == 'n1'"}],
      "mark": {"type": "line", "interpolate": "linear-closed", "fill": "#e4e6e4", "stroke": "#1a1a1a", "strokeWidth": 1.5},
      "encoding": {"x": {"field": "x", "type": "quantitative"}, "y": {"field": "y", "type": "quantitative"}, "order": {"field": "i"}}
    },
    {
      "data": {"name": "contours"},
      "transform": [{"filter": "datum.poly == 'n2'"}],
      "mark": {"type": "line", "interpolate": "linear-closed", "fill": "#c4c8c6", "stroke": "#1a1a1a", "strokeWidth": 1.4},
      "encoding": {"x": {"field": "x", "type": "quantitative"}, "y": {"field": "y", "type": "quantitative"}, "order": {"field": "i"}}
    },
    {
      "data": {"name": "contours"},
      "transform": [{"filter": "datum.poly == 'nw'"}],
      "mark": {"type": "line", "interpolate": "linear-closed", "fill": "#e4e6e4", "stroke": "#1a1a1a", "strokeWidth": 1.4},
      "encoding": {"x": {"field": "x", "type": "quantitative"}, "y": {"field": "y", "type": "quantitative"}, "order": {"field": "i"}}
    },
    {
      "data": {"name": "contours"},
      "transform": [{"filter": "datum.poly == 'e1'"}],
      "mark": {"type": "line", "interpolate": "linear-closed", "fill": "#ececec", "stroke": "#1a1a1a", "strokeWidth": 1.3},
      "encoding": {"x": {"field": "x", "type": "quantitative"}, "y": {"field": "y", "type": "quantitative"}, "order": {"field": "i"}}
    },
    {
      "data": {"name": "contours"},
      "transform": [{"filter": "datum.poly == 'e2'"}],
      "mark": {"type": "line", "interpolate": "linear-closed", "fill": "#e0e0e0", "stroke": "#1a1a1a", "strokeWidth": 1.3},
      "encoding": {"x": {"field": "x", "type": "quantitative"}, "y": {"field": "y", "type": "quantitative"}, "order": {"field": "i"}}
    },
    {
      "data": {"name": "contours"},
      "transform": [{"filter": "datum.poly == 'e3'"}],
      "mark": {"type": "line", "interpolate": "linear-closed", "fill": "#d2d2d2", "stroke": "#1a1a1a", "strokeWidth": 1.3},
      "encoding": {"x": {"field": "x", "type": "quantitative"}, "y": {"field": "y", "type": "quantitative"}, "order": {"field": "i"}}
    },
    {
      "data": {"name": "rings"},
      "mark": {"type": "point", "shape": "circle", "filled": false, "stroke": "#e2e2e2", "strokeWidth": 1, "opacity": 1},
      "encoding": {
        "x": {"datum": 0, "type": "quantitative"},
        "y": {"datum": 0, "type": "quantitative"},
        "size": {"field": "radius", "type": "quantitative", "scale": {"type": "pow", "exponent": 2, "domain": [0, 241], "range": [0, 232324]}, "legend": null}
      }
    },
    {
      "data": {"name": "spokes"},
      "mark": {"type": "rule", "stroke": "#e2e2e2", "strokeWidth": 1},
      "encoding": {
        "x": {"field": "xi", "type": "quantitative"},
        "y": {"field": "yi", "type": "quantitative"},
        "x2": {"field": "xo"},
        "y2": {"field": "yo"}
      }
    },
    {
      "data": {"name": "primitive"},
      "mark": {"type": "point", "shape": "circle", "filled": false, "stroke": "#111111", "strokeWidth": 2.6, "opacity": 1},
      "encoding": {
        "x": {"datum": 0, "type": "quantitative"},
        "y": {"datum": 0, "type": "quantitative"},
        "size": {"field": "radius", "type": "quantitative", "scale": {"type": "pow", "exponent": 2, "domain": [0, 241], "range": [0, 232324]}, "legend": null}
      }
    },
    {
      "data": {"name": "spokes"},
      "mark": {"type": "rule", "stroke": "#111111", "strokeWidth": 1.6},
      "encoding": {
        "x": {"field": "xo", "type": "quantitative"},
        "y": {"field": "yo", "type": "quantitative"},
        "x2": {"field": "xt"},
        "y2": {"field": "yt"}
      }
    },
    {
      "data": {"name": "pts"},
      "mark": {"type": "point", "shape": "circle", "filled": true, "size": 20, "strokeWidth": 0.9, "opacity": 1},
      "encoding": {
        "x": {"field": "x", "type": "quantitative"},
        "y": {"field": "y", "type": "quantitative"},
        "fill": {"field": "zone", "type": "nominal", "scale": {"domain": ["s", "c"], "range": ["#a0a0a0", "#f2f2f2"]}, "legend": null},
        "stroke": {"field": "zone", "type": "nominal", "scale": {"domain": ["s", "c"], "range": ["#6a6a6a", "#7a7a7a"]}, "legend": null}
      }
    },
    {
      "data": {"name": "mean"},
      "mark": {"type": "point", "shape": "circle", "filled": true, "size": 300, "fill": "#e0506a", "stroke": "#2a2fa0", "strokeWidth": 3, "opacity": 1},
      "encoding": {
        "x": {"field": "x", "type": "quantitative"},
        "y": {"field": "y", "type": "quantitative"}
      }
    },
    {
      "data": {"name": "cross"},
      "mark": {"type": "rule", "stroke": "#111111", "strokeWidth": 1.6},
      "encoding": {
        "x": {"field": "x", "type": "quantitative"},
        "y": {"field": "y", "type": "quantitative"},
        "x2": {"field": "x2"},
        "y2": {"field": "y2"}
      }
    },
    {
      "data": {"name": "labels"},
      "mark": {"type": "text", "font": "Liberation Sans", "fontSize": 14, "fontWeight": "bold", "color": "#111111", "align": "center", "baseline": "middle"},
      "encoding": {
        "x": {"field": "x", "type": "quantitative"},
        "y": {"field": "y", "type": "quantitative"},
        "text": {"field": "t"}
      }
    },
    {
      "data": {"name": "title"},
      "mark": {"type": "text", "font": "Liberation Sans", "fontSize": 33.5, "color": "#111111", "align": "center", "baseline": "alphabetic"},
      "encoding": {
        "x": {"field": "x", "type": "quantitative"},
        "y": {"field": "y", "type": "quantitative"},
        "text": {"field": "t"}
      }
    }
  ]
}
